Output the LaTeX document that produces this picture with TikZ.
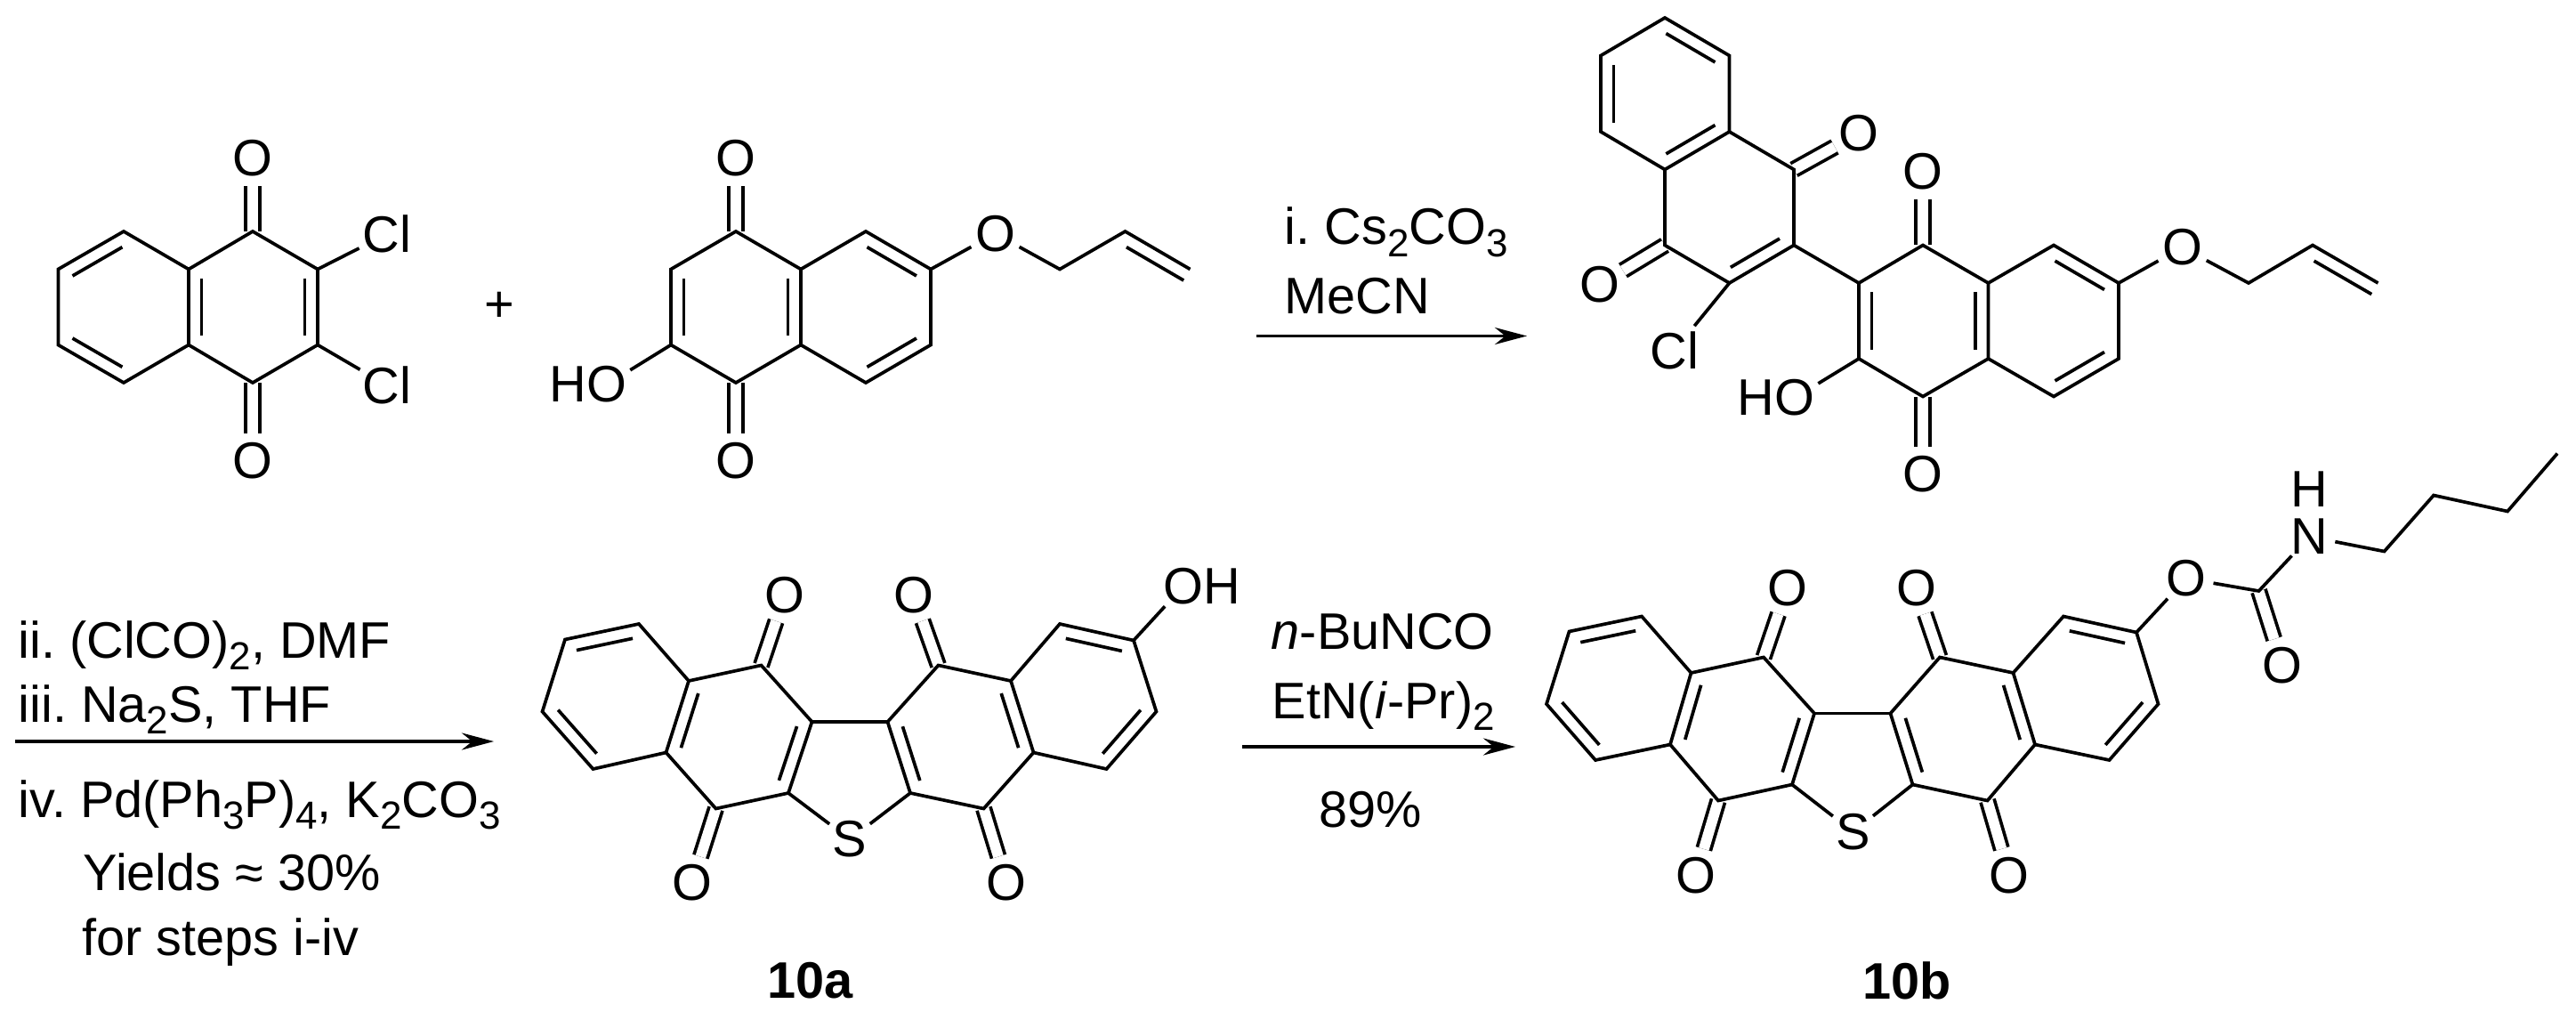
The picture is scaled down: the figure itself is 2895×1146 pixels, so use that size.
\documentclass[tikz,border=0pt]{standalone}
\usepackage{fontspec}
\setmainfont{Liberation Sans}
\usetikzlibrary{calc,arrows.meta}
\frenchspacing
\newcommand{\sbnum}[1]{\raisebox{-.23em}{\fontsize{12.5pt}{12.5pt}\selectfont #1}}
\newcommand{\inbond}[3][.12]{\draw[bond] ($(#2)!.12!(#3)!.145cm!-90:(#3)$) -- ($(#3)!#1!(#2)!.145cm!90:(#2)$);}
\begin{document}
\begin{tikzpicture}[x=.01cm,y=-.01cm,
  every node/.style={font=\fontsize{16.4pt}{20pt}\selectfont},
  bond/.style={line width=.037cm,line join=miter},
  cobond/.style={line width=.037cm,double,double distance between line centers=.155cm},
  atom/.style={circle,inner sep=0pt},
  reagent/.style={anchor=base west,inner sep=0pt},
  rxnarrow/.style={line width=.037cm,-{Stealth[length=.36cm,width=.19cm]}}]
\useasboundingbox (0,0) rectangle (2895,1146);
\coordinate (a1) at (65.4,302.5);
\coordinate (a2) at (139,260);
\coordinate (a3) at (212,302.5);
\coordinate (a4) at (212,387.5);
\coordinate (a5) at (139,430);
\coordinate (a6) at (65.4,387.5);
\coordinate (a7) at (284,260);
\coordinate (a8) at (357,302.5);
\coordinate (a9) at (357,387.5);
\coordinate (a10) at (284,430);
\node[atom] (aO1) at (284,178) {O};
\node[atom] (aO2) at (284,518) {O};
\node[atom] (aCl1) at (435,263) {Cl};
\node[atom] (aCl2) at (435,433) {Cl};
\draw[cobond] (a7) -- (aO1);
\draw[cobond] (a10) -- (aO2);
\draw[bond] (a1) -- (a2) -- (a3) -- (a4) -- (a5) -- (a6) -- cycle;
\draw[bond] (a3) -- (a7) -- (a8) -- (a9) -- (a10) -- (a4);
\draw[bond] (a8) -- (aCl1);
\draw[bond] (a9) -- (aCl2);
\inbond{a1}{a2}
\inbond{a5}{a6}
\inbond{a4}{a3}
\inbond{a8}{a9}
\node (plus) at (561,345) {+};
\coordinate (b1) at (754,302.5);
\coordinate (b2) at (827,260);
\coordinate (b3) at (900,302.5);
\coordinate (b4) at (900,387.5);
\coordinate (b5) at (827,430);
\coordinate (b6) at (754,387.5);
\coordinate (b7) at (973,260);
\coordinate (b8) at (1046,302.5);
\coordinate (b9) at (1046,387.5);
\coordinate (b10) at (973,430);
\coordinate (b11) at (1191,302.5);
\coordinate (b12) at (1264.5,260);
\coordinate (b13) at (1337.5,302.5);
\node[atom] (bO1) at (827,178) {O};
\node[atom] (bO2) at (827,518) {O};
\node[atom] (bOH) at (682,432) {\llap{H}O};
\node[atom] (bO3) at (1118.5,262.5) {O};
\draw[cobond] (b2) -- (bO1);
\draw[cobond] (b5) -- (bO2);
\draw[bond] (b1) -- (b2) -- (b3) -- (b4) -- (b5) -- (b6) -- cycle;
\draw[bond] (b3) -- (b7) -- (b8) -- (b9) -- (b10) -- (b4);
\draw[bond] (b6) -- (bOH);
\draw[bond] (b8) -- (bO3);
\draw[bond] (bO3) -- (b11) -- (b12) -- (b13);
\inbond{b6}{b1}
\inbond{b3}{b4}
\inbond{b7}{b8}
\inbond{b9}{b10}
\inbond[0]{b12}{b13}
\node[reagent] (r1a) at (1443,275) {i. Cs\sbnum{2}CO\sbnum{3}};
\node[reagent] (r1b) at (1443,353) {MeCN};
\coordinate (r1s) at (1412,377.5);
\coordinate (r1e) at (1716,377.5);
\draw[rxnarrow] (r1s) -- (r1e);
\coordinate (c1) at (1799,62.5);
\coordinate (c2) at (1871,20);
\coordinate (c3) at (1943.5,62.5);
\coordinate (c4) at (1943.5,148);
\coordinate (c5) at (1871,190.5);
\coordinate (c6) at (1799,148);
\coordinate (c7) at (2016,190.5);
\coordinate (c8) at (2016,275.5);
\coordinate (c9) at (1943.5,318);
\coordinate (c10) at (1871,275.5);
\node[atom] (cO1) at (2089,150) {O};
\node[atom] (cO2) at (1797.5,320) {O};
\node[atom] (cCl) at (1882,393.5) {Cl};
\coordinate (d1) at (2089,318);
\coordinate (d2) at (2161,275.5);
\coordinate (d3) at (2234.5,318);
\coordinate (d4) at (2234.5,403);
\coordinate (d5) at (2161,445.5);
\coordinate (d6) at (2089,403);
\coordinate (d7) at (2308,275.5);
\coordinate (d8) at (2381,318);
\coordinate (d9) at (2381,403);
\coordinate (d10) at (2308,445.5);
\coordinate (d11) at (2527,318);
\coordinate (d12) at (2599,275.5);
\coordinate (d13) at (2672.5,318);
\node[atom] (dO1) at (2161,193) {O};
\node[atom] (dO2) at (2161,533) {O};
\node[atom] (dOH) at (2017,447) {\llap{H}O};
\node[atom] (dO3) at (2452.5,278) {O};
\draw[cobond] (c7) -- (cO1);
\draw[cobond] (c10) -- (cO2);
\draw[cobond] (d2) -- (dO1);
\draw[cobond] (d5) -- (dO2);
\draw[bond] (c1) -- (c2) -- (c3) -- (c4) -- (c5) -- (c6) -- cycle;
\draw[bond] (c4) -- (c7) -- (c8) -- (c9) -- (c10) -- (c5);
\draw[bond] (c9) -- (cCl);
\draw[bond] (c8) -- (d1);
\draw[bond] (d1) -- (d2) -- (d3) -- (d4) -- (d5) -- (d6) -- cycle;
\draw[bond] (d3) -- (d7) -- (d8) -- (d9) -- (d10) -- (d4);
\draw[bond] (d6) -- (dOH);
\draw[bond] (d8) -- (dO3);
\draw[bond] (dO3) -- (d11) -- (d12) -- (d13);
\inbond{c6}{c1}
\inbond{c2}{c3}
\inbond{c4}{c5}
\inbond{c8}{c9}
\inbond{d6}{d1}
\inbond{d3}{d4}
\inbond{d7}{d8}
\inbond{d9}{d10}
\inbond[0]{d12}{d13}
\node[reagent] (r2a) at (20,739) {ii. (ClCO)\sbnum{2}, DMF};
\node[reagent] (r2b) at (20,811.5) {iii. Na\sbnum{2}S, THF};
\node[reagent] (r2c) at (20,918) {iv. Pd(Ph\sbnum{3}P)\sbnum{4}, K\sbnum{2}CO\sbnum{3}};
\node[reagent] (r2d) at (93,1000.5) {Yields ≈ 30\%};
\node[reagent] (r2e) at (92,1073) {for steps i-iv};
\coordinate (r2s) at (17,833);
\coordinate (r2t) at (555,833);
\draw[rxnarrow] (r2s) -- (r2t);
\coordinate (e1) at (635,718.5);
\coordinate (e2) at (718,701);
\coordinate (e3) at (774,765);
\coordinate (e4) at (748.5,845.5);
\coordinate (e5) at (666.5,864);
\coordinate (e6) at (609.5,799.5);
\coordinate (e7) at (855.5,747.5);
\coordinate (e8) at (912.5,811);
\coordinate (e9) at (886,891);
\coordinate (e10) at (804.5,908.5);
\coordinate (e11) at (997.5,811);
\coordinate (e12) at (1023,891);
\coordinate (e13) at (1054.5,747.5);
\coordinate (e14) at (1136,765);
\coordinate (e15) at (1161.5,845.5);
\coordinate (e16) at (1105.5,908.5);
\coordinate (e17) at (1191,701);
\coordinate (e18) at (1274,719.5);
\coordinate (e19) at (1299.5,799.5);
\coordinate (e20) at (1243.5,864);
\node[atom] (eS) at (955,943) {S};
\node[atom] (eO1) at (882,668.5) {O};
\node[atom] (eO2) at (1026.5,668.5) {O};
\node[atom] (eO3) at (778,992) {O};
\node[atom] (eO4) at (1131,992) {O};
\node[atom] (eOH) at (1330,658.5) {O\rlap{H}};
\draw[cobond] (e7) -- (eO1);
\draw[cobond] (e13) -- (eO2);
\draw[cobond] (e10) -- (eO3);
\draw[cobond] (e16) -- (eO4);
\draw[bond] (e1) -- (e2) -- (e3) -- (e4) -- (e5) -- (e6) -- cycle;
\draw[bond] (e3) -- (e7) -- (e8) -- (e9) -- (e10) -- (e4);
\draw[bond] (e8) -- (e11);
\draw[bond] (e9) -- (eS);
\draw[bond] (e12) -- (eS);
\draw[bond] (e11) -- (e13) -- (e14) -- (e15) -- (e16) -- (e12) -- cycle;
\draw[bond] (e14) -- (e17) -- (e18) -- (e19) -- (e20) -- (e15);
\draw[bond] (e18) -- (eOH);
\inbond{e1}{e2}
\inbond{e5}{e6}
\inbond{e4}{e3}
\inbond{e8}{e9}
\inbond{e12}{e11}
\inbond{e14}{e15}
\inbond{e17}{e18}
\inbond{e19}{e20}
\node (lab10a) at (911,1102) {\textbf{10a}};
\node[reagent] (r3a) at (1428,729.5) {\textit{n}-BuNCO};
\node[reagent] (r3b) at (1429,807.5) {EtN(\textit{i}-Pr)\sbnum{2}};
\node[reagent] (r3c) at (1482,929) {89\%};
\coordinate (r3s) at (1396,839);
\coordinate (r3e) at (1703,839);
\draw[rxnarrow] (r3s) -- (r3e);
\coordinate (f1) at (1763.5,709.5);
\coordinate (f2) at (1845,692.5);
\coordinate (f3) at (1900.5,756);
\coordinate (f4) at (1877,836.5);
\coordinate (f5) at (1793,854);
\coordinate (f6) at (1738,791);
\coordinate (f7) at (1982,738.5);
\coordinate (f8) at (2039,801.5);
\coordinate (f9) at (2014,881.5);
\coordinate (f10) at (1931,899.5);
\coordinate (f11) at (2124.5,801.5);
\coordinate (f12) at (2149.5,881.5);
\coordinate (f13) at (2180,738.5);
\coordinate (f14) at (2262.5,756);
\coordinate (f15) at (2287,836.5);
\coordinate (f16) at (2233.5,899.5);
\coordinate (f17) at (2319,692.5);
\coordinate (f18) at (2401,710.5);
\coordinate (f19) at (2425.5,791);
\coordinate (f20) at (2370.5,854);
\coordinate (f21) at (2538.5,664);
\coordinate (f22) at (2679.5,619.5);
\coordinate (f23) at (2735,556.5);
\coordinate (f24) at (2818,574.5);
\coordinate (f25) at (2874,509.5);
\node[atom] (fS) at (2082.5,934.5) {S};
\node[atom] (fO1) at (2008.5,660.5) {O};
\node[atom] (fO2) at (2153.5,660.5) {O};
\node[atom] (fO3) at (1906,983.5) {O};
\node[atom] (fO4) at (2258,983.5) {O};
\node[atom] (fO5) at (2457,650) {O};
\node[atom] (fO6) at (2565,747.5) {O};
\node[atom] (fN) at (2595.5,603) {N};
\node[atom] (fH) at (2595.5,550) {H};
\draw[cobond] (f7) -- (fO1);
\draw[cobond] (f13) -- (fO2);
\draw[cobond] (f10) -- (fO3);
\draw[cobond] (f16) -- (fO4);
\draw[cobond] (f21) -- (fO6);
\draw[bond] (f1) -- (f2) -- (f3) -- (f4) -- (f5) -- (f6) -- cycle;
\draw[bond] (f3) -- (f7) -- (f8) -- (f9) -- (f10) -- (f4);
\draw[bond] (f8) -- (f11);
\draw[bond] (f9) -- (fS);
\draw[bond] (f12) -- (fS);
\draw[bond] (f11) -- (f13) -- (f14) -- (f15) -- (f16) -- (f12) -- cycle;
\draw[bond] (f14) -- (f17) -- (f18) -- (f19) -- (f20) -- (f15);
\draw[bond] (f18) -- (fO5);
\draw[bond] (fO5) -- (f21) -- (fN);
\draw[bond] (fN) -- (f22) -- (f23) -- (f24) -- (f25);
\inbond{f1}{f2}
\inbond{f5}{f6}
\inbond{f4}{f3}
\inbond{f8}{f9}
\inbond{f12}{f11}
\inbond{f14}{f15}
\inbond{f17}{f18}
\inbond{f19}{f20}
\node (lab10b) at (2143,1102) {\textbf{10b}};
\end{tikzpicture}
\end{document}
